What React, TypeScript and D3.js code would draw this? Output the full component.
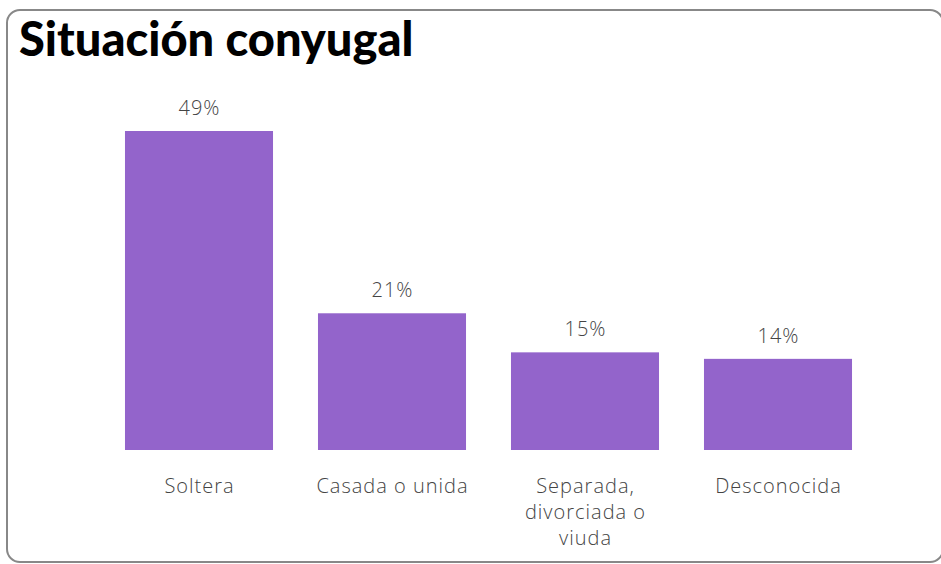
import React from "react";
import * as d3 from "d3";

const categories = ["Soltera", "Casada o unida", "Separada, divorciada o viuda", "Desconocida"];
const categoryLines = [["Soltera"], ["Casada o unida"], ["Separada,", "divorciada o", "viuda"], ["Desconocida"]];
const values = [49, 21, 15, 14];
const valueLabels = ["49%", "21%", "15%", "14%"];
const title = "Situación conyugal";

export default function App() {
  const W = 941, H = 564;
  const x = d3.scaleBand<string>().domain(categories).range([102.5, 874.5]).paddingInner(0.233).paddingOuter(0.1165);
  const y = d3.scaleLinear().domain([0, 49]).range([450, 131]);
  const font = "Lato, 'Open Sans', sans-serif";
  const lfont = "'Open Sans', sans-serif";
  return (
    <svg width={W} height={H} style={{ position: "absolute", left: 0, top: 0 }}>
      <rect x={7} y={10} width={936} height={552} rx={13} fill="#fff" stroke="#888" strokeWidth={2} />
      <text x={19} y={56} fontFamily={font} fontWeight={900} fontSize={47} fill="#000">{title}</text>
      {categories.map((c, i) => {
        const bx = x(c)!;
        const bw = x.bandwidth();
        const cx = bx + bw / 2;
        return (
          <g key={c}>
            <rect x={bx} y={y(values[i])} width={bw} height={y(0) - y(values[i])} fill="#9364CB" />
            <text x={cx + 0.5} y={y(values[i]) - 16} textAnchor="middle" fontFamily={lfont} fontWeight={300} fontSize={20} letterSpacing={1} fill="#444">{valueLabels[i]}</text>
            {categoryLines[i].map((l, j) => (
              <text key={j} x={cx + 0.5} y={493 + j * 26} textAnchor="middle" fontFamily={lfont} fontWeight={300} fontSize={20} letterSpacing={1} fill="#444">{l}</text>
            ))}
          </g>
        );
      })}
    </svg>
  );
}
